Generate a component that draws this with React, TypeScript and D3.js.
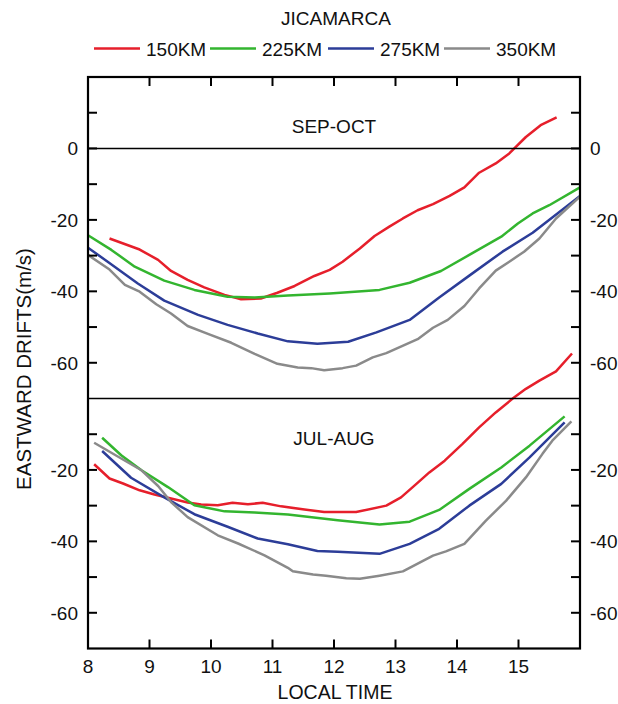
import React from "react";
import * as d3 from "d3";

const seriesNames = ["150KM", "225KM", "275KM", "350KM"];
const seriesColors = ["#e61f2b", "#33b52f", "#2c3d98", "#8a8a8a"];

// SEP-OCT panel
const sepRedT = [8.35, 8.84, 9.14, 9.35, 9.62, 9.89, 10.22, 10.49, 10.81, 11.08, 11.36, 11.68, 11.93, 12.14, 12.42, 12.66, 12.9, 13.12, 13.36, 13.61, 13.88, 14.12, 14.36, 14.63, 14.85, 15.12, 15.36, 15.62];
const sepRedV = [-25.2, -28.3, -31.2, -34.3, -36.8, -38.9, -41, -42.2, -42, -40.4, -38.5, -35.7, -34, -31.7, -28, -24.5, -21.9, -19.6, -17.3, -15.6, -13.3, -10.9, -6.8, -4.2, -1.4, 3.2, 6.5, 8.7];
const sepGreenT = [8, 8.38, 8.76, 9.24, 9.73, 10.27, 10.71, 11.25, 11.93, 12.74, 13.23, 13.74, 14.2, 14.72, 14.99, 15.23, 15.5, 16];
const sepGreenV = [-24.3, -28.4, -33.1, -37, -39.6, -41.5, -41.7, -41.2, -40.6, -39.6, -37.6, -34.3, -29.8, -24.7, -21, -18.2, -15.9, -10.9];
const sepBlueT = [8, 8.32, 8.81, 9.24, 9.79, 10.27, 10.76, 11.25, 11.73, 12.23, 12.69, 13.23, 13.71, 14.2, 14.74, 15.23, 16];
const sepBlueV = [-27.8, -31.7, -37.8, -42.6, -46.6, -49.4, -51.8, -54, -54.7, -54.1, -51.5, -48, -41.7, -35.6, -28.9, -23.6, -13.3];
const sepGrayT = [8, 8.35, 8.6, 8.84, 9.11, 9.35, 9.62, 9.95, 10.33, 10.71, 11.08, 11.41, 11.63, 11.84, 12.14, 12.36, 12.63, 12.85, 13.36, 13.61, 13.85, 14.12, 14.36, 14.63, 14.85, 15.09, 15.34, 15.61, 16];
const sepGrayV = [-29.8, -33.9, -38.2, -40.1, -43.6, -46.2, -49.7, -51.9, -54.4, -57.5, -60.3, -61.3, -61.5, -62.1, -61.5, -60.8, -58.5, -57.3, -53.4, -50.2, -48, -44.1, -39.2, -34.2, -31.7, -28.9, -25.2, -19.6, -13.5];

// JUL-AUG panel
const julRedT = [8.1, 8.35, 8.57, 8.84, 9.08, 9.35, 9.62, 9.84, 10.11, 10.35, 10.6, 10.84, 11.14, 11.52, 11.84, 12.36, 12.85, 13.09, 13.34, 13.55, 13.8, 14.09, 14.36, 14.63, 14.9, 15.12, 15.34, 15.61, 15.87];
const julRedV = [-18.4, -22.4, -23.8, -25.7, -26.9, -28, -29.1, -29.7, -29.9, -29.2, -29.6, -29.2, -30.2, -31.1, -31.8, -31.8, -30, -27.7, -23.9, -20.7, -17.4, -12.7, -8.1, -3.9, -0.1, 2.7, 5, 7.6, 12.6];
const julGreenT = [8.23, 8.54, 8.87, 9.3, 9.73, 10.22, 10.71, 11.25, 12.06, 12.74, 13.23, 13.71, 14.2, 14.72, 15.18, 15.75];
const julGreenV = [-11, -15.9, -20.1, -24.8, -29.9, -31.6, -31.9, -32.5, -34.1, -35.3, -34.5, -31.2, -25.3, -19.3, -13.2, -5];
const julBlueT = [8.23, 8.7, 9.24, 9.73, 10.27, 10.76, 11.25, 11.73, 12.06, 12.74, 13.23, 13.71, 14.2, 14.72, 15.18, 15.75];
const julBlueV = [-14.7, -22.2, -27.7, -32.4, -35.9, -39.2, -40.8, -42.7, -42.9, -43.5, -40.7, -36.5, -30, -23.9, -16.5, -6.7];
const julGrayT = [8.1, 8.54, 8.87, 9.14, 9.35, 9.62, 10.11, 10.44, 10.87, 11.25, 11.33, 11.66, 11.87, 12.2, 12.42, 12.74, 13.12, 13.61, 13.82, 14.12, 14.47, 14.8, 15.12, 15.39, 15.55, 15.86];
const julGrayV = [-12.4, -16.8, -20.1, -24.5, -29, -33.2, -38.3, -40.6, -43.9, -47.4, -48.4, -49.3, -49.6, -50.3, -50.5, -49.6, -48.4, -44, -42.8, -40.7, -34.2, -28.6, -22.1, -15.5, -11.8, -6.4];

const xTicks = [8, 9, 10, 11, 12, 13, 14, 15];
const topTicks = [10, 0, -10, -20, -30, -40, -50, -60];
const topLabels = [0, -20, -40, -60];
const botTicks = [-10, -20, -30, -40, -50, -60];
const botLabels = [-20, -40, -60];

const W = 618, H = 704;
const L = 88, R = 580, T = 77, MID = 398.5, B = 648.5;
const FONT = "'Liberation Sans', Arial, sans-serif";
const FS = 19;

export default function App() {
  const x = d3.scaleLinear().domain([8, 16]).range([L, R]);
  const yTop = d3.scaleLinear().domain([-70, 20]).range([MID, T]);
  const yBot = d3.scaleLinear().domain([-70, 0]).range([B, MID]);

  const sep = [
    [sepRedT, sepRedV],
    [sepGreenT, sepGreenV],
    [sepBlueT, sepBlueV],
    [sepGrayT, sepGrayV],
  ];
  const jul = [
    [julRedT, julRedV],
    [julGreenT, julGreenV],
    [julBlueT, julBlueV],
    [julGrayT, julGrayV],
  ];

  const mkLine = (y: d3.ScaleLinear<number, number>) =>
    d3.line<[number, number]>().x((d) => x(d[0])).y((d) => y(d[1]));
  const lineTop = mkLine(yTop);
  const lineBot = mkLine(yBot);
  const zip = (t: number[], v: number[]) => t.map((ti, i) => [ti, v[i]] as [number, number]);

  const tickLen = 9;
  const legendX = [94, 210, 328, 444];

  return (
    <svg width={W} height={H} style={{ position: "absolute", left: 0, top: 0, background: "#fff" }} fontFamily={FONT}>
      <rect x={0} y={0} width={W} height={H} fill="#fff" />
      {/* title */}
      <text x={336} y={25} textAnchor="middle" fontSize={FS} fill="#111">JICAMARCA</text>
      {/* legend */}
      {seriesNames.map((n, i) => (
        <g key={n}>
          <line x1={legendX[i]} x2={legendX[i] + 46} y1={48.5} y2={48.5} stroke={seriesColors[i]} strokeWidth={2.6} />
          <text x={legendX[i] + 52} y={56} fontSize={FS} fill="#111">{n}</text>
        </g>
      ))}

      {/* series */}
      <g fill="none" strokeWidth={2.5} strokeLinejoin="round">
        {sep.map((s, i) => (
          <path key={"s" + i} d={lineTop(zip(s[0], s[1])) || ""} stroke={seriesColors[i]} />
        ))}
        {jul.map((s, i) => (
          <path key={"j" + i} d={lineBot(zip(s[0], s[1])) || ""} stroke={seriesColors[i]} />
        ))}
      </g>

      {/* zero line and divider */}
      <line x1={L} x2={R} y1={yTop(0)} y2={yTop(0)} stroke="#000" strokeWidth={1.6} />
      <line x1={L} x2={R} y1={MID} y2={MID} stroke="#000" strokeWidth={1.6} />

      {/* frame */}
      <rect x={L} y={T} width={R - L} height={B - T} fill="none" stroke="#000" strokeWidth={2.2} />

      {/* x ticks */}
      {xTicks.filter((t) => t > 8).map((t) => (
        <g key={"xt" + t}>
          <line x1={x(t)} x2={x(t)} y1={T} y2={T + tickLen} stroke="#000" strokeWidth={2} />
          <line x1={x(t)} x2={x(t)} y1={B} y2={B - tickLen} stroke="#000" strokeWidth={2} />
        </g>
      ))}
      {xTicks.map((t) => (
        <text key={"xl" + t} x={x(t)} y={673} textAnchor="middle" fontSize={FS} fill="#111">{t}</text>
      ))}

      {/* y ticks top */}
      {topTicks.map((v) => (
        <g key={"yt" + v}>
          <line x1={L} x2={L + tickLen} y1={yTop(v)} y2={yTop(v)} stroke="#000" strokeWidth={2} />
          <line x1={R} x2={R - tickLen} y1={yTop(v)} y2={yTop(v)} stroke="#000" strokeWidth={2} />
        </g>
      ))}
      {topLabels.map((v) => (
        <g key={"ytl" + v}>
          <text x={L - 10} y={yTop(v) + 7} textAnchor="end" fontSize={FS} fill="#111">{v}</text>
          <text x={R + 10} y={yTop(v) + 7} textAnchor="start" fontSize={FS} fill="#111">{v}</text>
        </g>
      ))}
      {/* y ticks bottom */}
      {botTicks.map((v) => (
        <g key={"yb" + v}>
          <line x1={L} x2={L + tickLen} y1={yBot(v)} y2={yBot(v)} stroke="#000" strokeWidth={2} />
          <line x1={R} x2={R - tickLen} y1={yBot(v)} y2={yBot(v)} stroke="#000" strokeWidth={2} />
        </g>
      ))}
      {botLabels.map((v) => (
        <g key={"ybl" + v}>
          <text x={L - 10} y={yBot(v) + 7} textAnchor="end" fontSize={FS} fill="#111">{v}</text>
          <text x={R + 10} y={yBot(v) + 7} textAnchor="start" fontSize={FS} fill="#111">{v}</text>
        </g>
      ))}

      {/* panel labels */}
      <text x={x(12)} y={133} textAnchor="middle" fontSize={FS} fill="#111">SEP-OCT</text>
      <text x={x(12)} y={445} textAnchor="middle" fontSize={FS} fill="#111">JUL-AUG</text>

      {/* axis titles */}
      <text x={335} y={699} textAnchor="middle" fontSize={19.5} fill="#111">LOCAL TIME</text>
      <text transform={`translate(31,369) rotate(-90)`} textAnchor="middle" fontSize={20.5} fill="#111">EASTWARD DRIFTS(m/s)</text>
    </svg>
  );
}
